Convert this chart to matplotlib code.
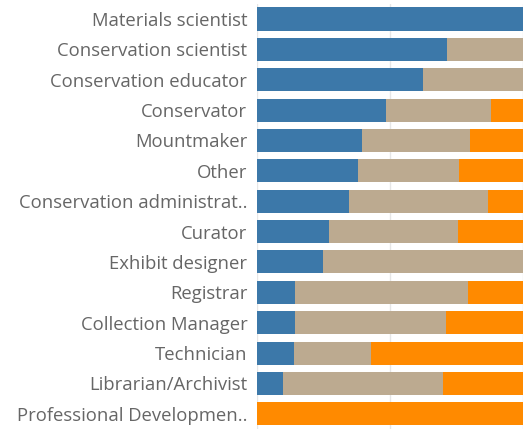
import matplotlib
matplotlib.use("Agg")
import matplotlib.pyplot as plt
import numpy as np

roles = [
    "Materials scientist",
    "Conservation scientist",
    "Conservation educator",
    "Conservator",
    "Mountmaker",
    "Other",
    "Conservation administrat..",
    "Curator",
    "Exhibit designer",
    "Registrar",
    "Collection Manager",
    "Technician",
    "Librarian/Archivist",
    "Professional Developmen..",
]
# share of respondents per role (percent)
blue_pct = [100.0, 71.5, 62.5, 48.6, 39.5, 37.8, 34.5, 26.9, 24.7, 14.4, 14.4, 13.8, 9.8, 0.0]
tan_pct = [0.0, 28.5, 37.5, 39.5, 40.5, 38.1, 52.3, 48.5, 75.3, 64.9, 56.5, 29.1, 60.0, 0.0]
orange_pct = [0.0, 0.0, 0.0, 11.9, 20.0, 24.1, 13.2, 24.6, 0.0, 20.7, 29.1, 57.1, 30.2, 100.0]

colors = ["#3c78a9", "#bcaa90", "#ff8a00"]

fig = plt.figure(figsize=(5.31, 4.29), dpi=100)
ax = fig.add_axes([257 / 531, 0.0, (523 - 257) / 531, 1 - 3.8 / 429])

y = np.arange(len(roles))
left = np.zeros(len(roles))
for vals, c in zip([blue_pct, tan_pct, orange_pct], colors):
    vals = np.array(vals)
    ax.barh(y, vals, left=left, height=0.76, color=c, edgecolor="none", zorder=2)
    left += vals

ax.set_xlim(0, 100)
ax.set_ylim(len(roles) - 0.5, -0.5)
ax.set_xticks([0, 50, 100])
ax.xaxis.grid(True, color="#e6e6e6", linewidth=1, zorder=0)
ax.tick_params(axis="x", length=0, labelbottom=False)
ax.tick_params(axis="y", length=0, pad=7)
ax.set_yticks(y)
ax.set_yticklabels(roles, fontsize=13.3, color="#666666", family="Open Sans")
for s in ax.spines.values():
    s.set_visible(False)

fig.savefig("out.png", dpi=100)
